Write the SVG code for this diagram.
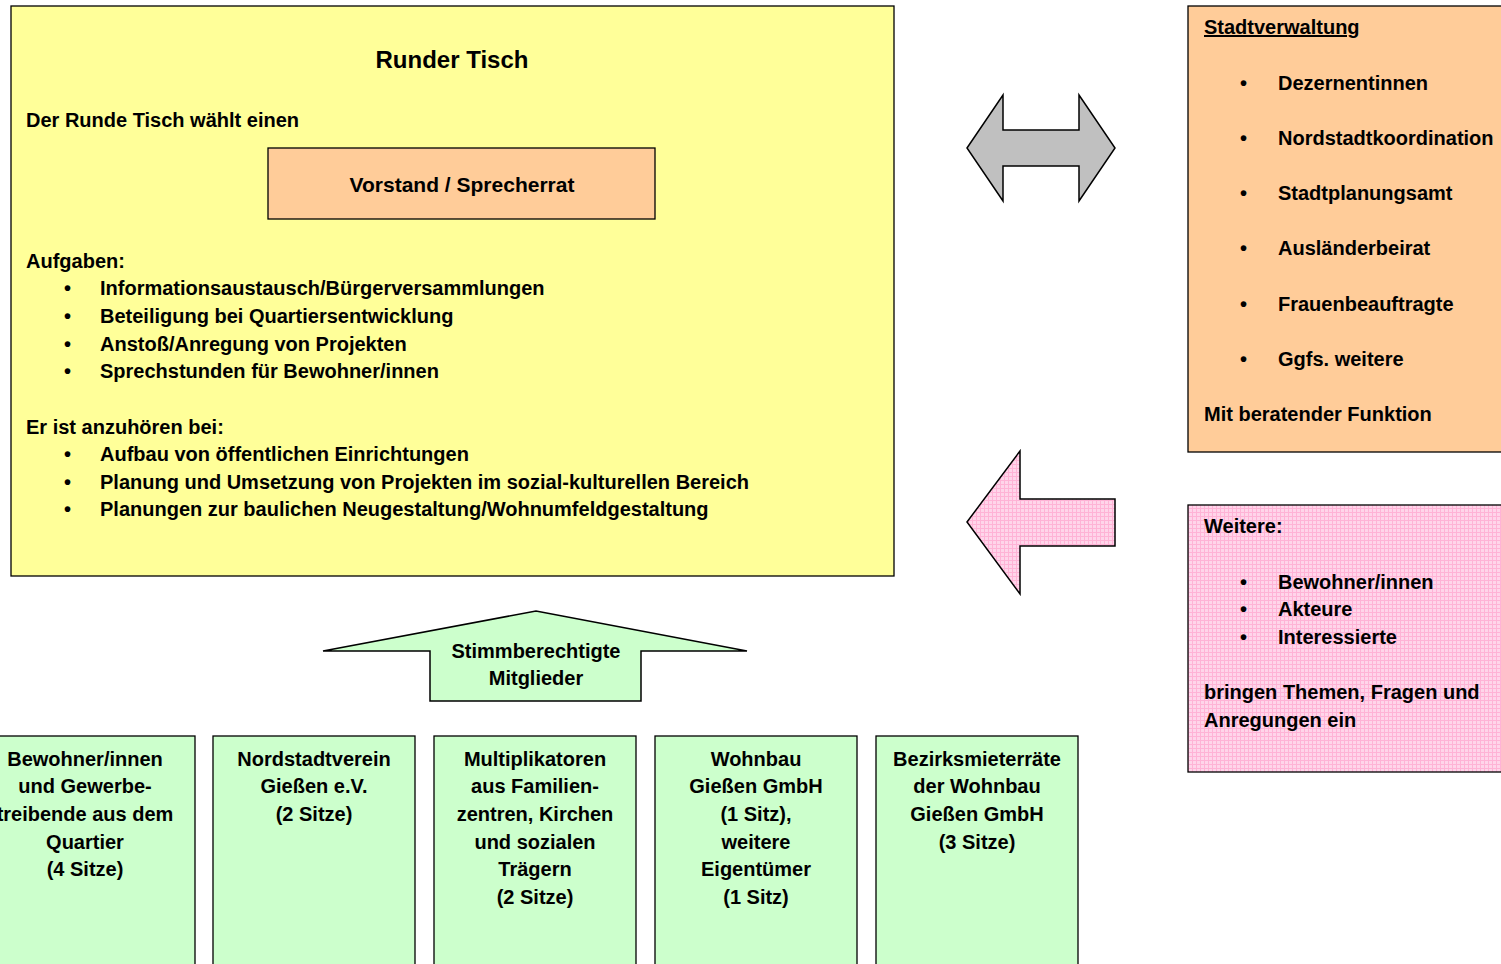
<svg xmlns="http://www.w3.org/2000/svg" width="1501" height="964" viewBox="0 0 1501 964">
<style>
text{font-family:"Liberation Sans",Arial,sans-serif;font-weight:bold;font-size:20px;fill:#000}
.c{text-anchor:middle}
.box{stroke:#000;stroke-width:1.3}
.y{fill:#FFFF99}
.o{fill:#FFCC99}
.g{fill:#CCFFCC}
.p{fill:url(#pinkgrid)}
.ar{stroke:#000;stroke-width:1.5;stroke-linejoin:miter}
</style>
<defs>
<pattern id="pinkgrid" width="4" height="4" patternUnits="userSpaceOnUse">
<rect width="4" height="4" fill="#FFD5EA"/>
<rect width="4" height="1" fill="#FFB3D6"/>
<rect width="1" height="4" fill="#FFB3D6"/>
</pattern>
</defs>
<rect width="1501" height="964" fill="#fff"/>

<g id="runder-tisch">
<rect class="box y" x="11" y="6" width="883" height="570"/>
<text class="c" x="452" y="68" style="font-size:24px">Runder Tisch</text>
<text x="26" y="127">Der Runde Tisch wählt einen</text>
<text x="26" y="268">Aufgaben:</text>
<text x="64" y="295">•</text><text x="100" y="295">Informationsaustausch/Bürgerversammlungen</text>
<text x="64" y="323">•</text><text x="100" y="323">Beteiligung bei Quartiersentwicklung</text>
<text x="64" y="351">•</text><text x="100" y="351">Anstoß/Anregung von Projekten</text>
<text x="64" y="378">•</text><text x="100" y="378">Sprechstunden für Bewohner/innen</text>
<text x="26" y="434">Er ist anzuhören bei:</text>
<text x="64" y="461">•</text><text x="100" y="461">Aufbau von öffentlichen Einrichtungen</text>
<text x="64" y="489">•</text><text x="100" y="489">Planung und Umsetzung von Projekten im sozial-kulturellen Bereich</text>
<text x="64" y="516">•</text><text x="100" y="516">Planungen zur baulichen Neugestaltung/Wohnumfeldgestaltung</text>
</g>

<g id="vorstand">
<rect class="box o" x="268" y="148" width="387" height="71"/>
<text class="c" x="462" y="192" style="font-size:21px">Vorstand / Sprecherrat</text>
</g>

<g id="stadtverwaltung">
<rect class="box o" x="1188" y="6" width="320" height="446"/>
<text x="1204" y="34" text-decoration="underline">Stadtverwaltung</text>
<text x="1240" y="90">•</text><text x="1278" y="90">Dezernentinnen</text>
<text x="1240" y="145">•</text><text x="1278" y="145">Nordstadtkoordination</text>
<text x="1240" y="200">•</text><text x="1278" y="200">Stadtplanungsamt</text>
<text x="1240" y="255">•</text><text x="1278" y="255">Ausländerbeirat</text>
<text x="1240" y="311">•</text><text x="1278" y="311">Frauenbeauftragte</text>
<text x="1240" y="366">•</text><text x="1278" y="366">Ggfs. weitere</text>
<text x="1204" y="421">Mit beratender Funktion</text>
</g>

<g id="weitere">
<rect class="box p" x="1188" y="505" width="320" height="267"/>
<text x="1204" y="533">Weitere:</text>
<text x="1240" y="589">•</text><text x="1278" y="589">Bewohner/innen</text>
<text x="1240" y="616">•</text><text x="1278" y="616">Akteure</text>
<text x="1240" y="644">•</text><text x="1278" y="644">Interessierte</text>
<text x="1204" y="699">bringen Themen, Fragen und</text>
<text x="1204" y="727">Anregungen ein</text>
</g>

<g id="stimmberechtigte">
<polygon class="ar g" points="323,651 536,611 747,651 641,651 641,701 430,701 430,651"/>
<text class="c" x="536" y="658">Stimmberechtigte</text>
<text class="c" x="536" y="685">Mitglieder</text>
</g>

<g id="bewohner">
<rect class="box g" x="-26" y="736" width="221" height="240"/>
<text class="c" x="85" y="766">Bewohner/innen</text>
<text class="c" x="85" y="793">und Gewerbe-</text>
<text class="c" x="85" y="821">treibende aus dem</text>
<text class="c" x="85" y="849">Quartier</text>
<text class="c" x="85" y="876">(4 Sitze)</text>
</g>

<g id="nordstadtverein">
<rect class="box g" x="213" y="736" width="202" height="240"/>
<text class="c" x="314" y="766">Nordstadtverein</text>
<text class="c" x="314" y="793">Gießen e.V.</text>
<text class="c" x="314" y="821">(2 Sitze)</text>
</g>

<g id="multiplikatoren">
<rect class="box g" x="434" y="736" width="202" height="240"/>
<text class="c" x="535" y="766">Multiplikatoren</text>
<text class="c" x="535" y="793">aus Familien-</text>
<text class="c" x="535" y="821">zentren, Kirchen</text>
<text class="c" x="535" y="849">und sozialen</text>
<text class="c" x="535" y="876">Trägern</text>
<text class="c" x="535" y="904">(2 Sitze)</text>
</g>

<g id="wohnbau">
<rect class="box g" x="655" y="736" width="202" height="240"/>
<text class="c" x="756" y="766">Wohnbau</text>
<text class="c" x="756" y="793">Gießen GmbH</text>
<text class="c" x="756" y="821">(1 Sitz),</text>
<text class="c" x="756" y="849">weitere</text>
<text class="c" x="756" y="876">Eigentümer</text>
<text class="c" x="756" y="904">(1 Sitz)</text>
</g>

<g id="bezirksmieterraete">
<rect class="box g" x="876" y="736" width="202" height="240"/>
<text class="c" x="977" y="766">Bezirksmieterräte</text>
<text class="c" x="977" y="793">der Wohnbau</text>
<text class="c" x="977" y="821">Gießen GmbH</text>
<text class="c" x="977" y="849">(3 Sitze)</text>
</g>

<g id="connectors">
<polygon class="ar" fill="#C0C0C0" points="967,148 1003,95 1003,130 1079,130 1079,95 1115,148 1079,201 1079,166 1003,166 1003,201"/>
<polygon class="ar p" points="967,522 1020,451 1020,499 1115,499 1115,546 1020,546 1020,594"/>
</g>
</svg>
